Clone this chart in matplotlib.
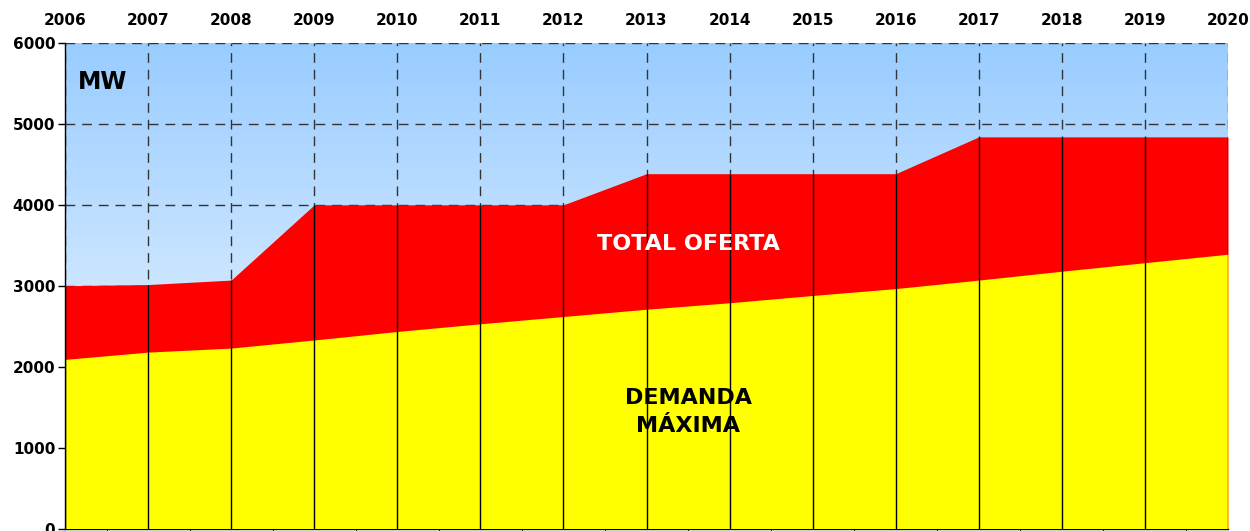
import numpy as np
import matplotlib.pyplot as plt
from matplotlib.colors import LinearSegmentedColormap
from matplotlib.ticker import MultipleLocator

# Datos (MW)
anios = [2006, 2007, 2008, 2009, 2010, 2011, 2012, 2013, 2014, 2015, 2016, 2017, 2018, 2019, 2020]
demanda = [2090, 2180, 2230, 2330, 2435, 2530, 2620, 2710, 2790, 2880, 2965, 3070, 3180, 3285, 3390]
oferta = [3000, 3015, 3070, 4000, 4000, 4000, 4000, 4385, 4385, 4385, 4385, 4840, 4840, 4840, 4840]
y_ticks = [0, 1000, 2000, 3000, 4000, 5000, 6000]

fig = plt.figure(figsize=(12.5, 5.31), dpi=100)
ax = fig.add_axes([0.052, 0.0047, 0.9304, 0.9143])

ax.set_xlim(anios[0], anios[-1])
ax.set_ylim(0, 6000)

# fondo degradado azul -> blanco
cmap = LinearSegmentedColormap.from_list('cielo', ['#FFFFFF', '#99CCFF'])
grad = np.linspace(0, 1, 256).reshape(-1, 1)
ax.imshow(grad, cmap=cmap, origin='lower', aspect='auto',
          extent=[anios[0], anios[-1], 0, 6000], zorder=0)

# rejilla discontinua
for y in y_ticks[1:]:
    ax.axhline(y, color='#333333', lw=1, ls=(0, (7, 5)), zorder=1)
for a in anios:
    ax.axvline(a, color='#333333', lw=1, ls=(0, (7, 5)), zorder=1)

ax.fill_between(anios, 0, oferta, color='#FF0000', lw=0, zorder=2)
ax.fill_between(anios, 0, demanda, color='#FFFF00', lw=0, zorder=3)
ax.vlines(anios, 0, oferta, color='black', lw=1, zorder=4)

ax.text(2006.16, 5520, 'MW', fontsize=17, fontweight='bold', va='center', ha='left', zorder=5)
ax.text(2013.5, 3520, 'TOTAL OFERTA', fontsize=16, fontweight='bold', color='white',
        ha='center', va='center', zorder=5)
ax.text(2013.5, 1440, 'DEMANDA\nMÁXIMA', fontsize=16, fontweight='bold', color='black',
        ha='center', va='center', linespacing=1.55, zorder=5)

ax.set_xticks(anios)
ax.xaxis.set_minor_locator(MultipleLocator(0.5))
ax.tick_params(axis='x', which='major', top=True, labeltop=True, bottom=True,
               labelbottom=False, length=0, pad=11)
ax.tick_params(axis='x', which='minor', bottom=True, top=False, length=5)
ax.set_xticklabels([str(a) for a in anios], fontsize=11, fontweight='bold')

ax.set_yticks(y_ticks)
ax.set_yticklabels([str(v) for v in y_ticks], fontsize=11, fontweight='bold')
ax.tick_params(axis='y', length=5, width=1, pad=2)

for s in ['top', 'right']:
    ax.spines[s].set_visible(False)
ax.spines['left'].set_linewidth(1)
ax.spines['bottom'].set_linewidth(1)
ax.spines['left'].set_zorder(6)

fig.savefig('out.png', dpi=100)
